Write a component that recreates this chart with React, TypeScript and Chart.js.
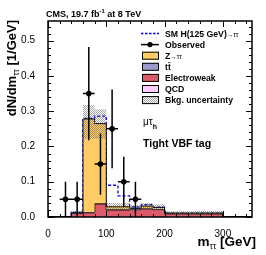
import React, { useEffect, useRef } from 'react';
import { Chart, registerables } from 'chart.js';

Chart.register(...registerables);

// ---- data ----
const binEdges = [0, 20, 40, 60, 80, 100, 120, 140, 160, 180, 200, 250, 300, 350];
const qcdValues = [0, 0, 0, 0, 0, 0, 0, 0, 0, 0, 0, 0, 0];
const electroweakValues = [0, 0, 0.010, 0.012, 0.037, 0.020, 0.020, 0.021, 0.023, 0.021, 0.009, 0.009, 0];
const ttbarValues = [0, 0, 0.001, 0.002, 0.002, 0.002, 0.002, 0.003, 0.002, 0.002, 0.001, 0.001, 0];
const ztautauValues = [0, 0, 0.002, 0.264, 0.226, 0.007, 0.007, 0.001, 0.006, 0.004, 0.001, 0.001, 0];
const signalValues = [0, 0, 0, 0.002, 0.021, 0.061, 0.031, 0.004, 0.004, 0.001, 0, 0, 0];
const bkgUncLow = [0, 0, 0.008, 0.222, 0.222, 0.020, 0.020, 0.018, 0.022, 0.019, 0.007, 0.006, 0];
const bkgUncHigh = [0, 0, 0.018, 0.318, 0.306, 0.040, 0.040, 0.034, 0.040, 0.036, 0.016, 0.018, 0];

const obsMass = [30, 50, 70, 90, 110, 130, 150];
const obsDensity = [0.05, 0.05, 0.35, 0.15, 0.25, 0.10, 0.05];
const obsErrDown = [0.05, 0.05, 0.132, 0.087, 0.112, 0.071, 0.05];
const obsErrUp = [0.05, 0.05, 0.132, 0.087, 0.112, 0.071, 0.05];
const obsBinHalfWidth = [10, 10, 10, 10, 10, 10, 10];

const xTickValues = [0, 100, 200, 300];
const yTickValues = [0, 0.1, 0.2, 0.3, 0.4, 0.5];
const xRange = [0, 350];
const yRange = [0, 0.556];
const xMinorStep = 20;
const yMinorStep = 0.02;

const legendLabels = ['SM H(125 GeV)', 'Observed', 'Z', 'tt', 'Electroweak', 'QCD', 'Bkg. uncertainty'];

const COL_Z = '#FFCC66';
const COL_TT = '#9999CC';
const COL_EWK = '#DE5A6A';
const COL_QCD = '#FFCCFF';
const COL_SIG = '#0000FF';
const FONT = '"Liberation Sans", Arial, Helvetica, sans-serif';

function cumulative(...arrs: number[][]) {
  return arrs[0].map((_, i) => arrs.reduce((s, a) => s + a[i], 0));
}
function steps(values: number[]) {
  const pts = values.map((v, i) => ({ x: binEdges[i], y: v }));
  pts.push({ x: binEdges[binEdges.length - 1], y: values[values.length - 1] });
  return pts;
}

function makeHatch(): CanvasPattern | string {
  const c = document.createElement('canvas');
  c.width = 2;
  c.height = 2;
  const g = c.getContext('2d');
  if (!g) return 'rgba(120,120,120,0.5)';
  g.fillStyle = 'rgba(80,80,80,0.5)';
  g.fillRect(0, 0, 1, 1);
  g.fillRect(1, 1, 1, 1);
  const p = g.createPattern(c, 'repeat');
  return p || 'rgba(120,120,120,0.5)';
}

type Part = { t: string; f: string; dy?: number; c?: string };
function drawParts(ctx: CanvasRenderingContext2D, parts: Part[], x: number, y: number, draw = true) {
  let cx = x;
  for (const p of parts) {
    ctx.font = p.f;
    if (draw) {
      ctx.fillStyle = p.c || '#000';
      ctx.fillText(p.t, cx, y + (p.dy || 0));
    }
    cx += ctx.measureText(p.t).width;
  }
  return cx - x;
}

export default function App() {
  const ref = useRef<HTMLCanvasElement>(null);

  useEffect(() => {
    document.body.style.margin = '0';
    const canvas = ref.current;
    if (!canvas) return;
    const hatch = makeHatch();

    const s1 = cumulative(qcdValues);
    const s2 = cumulative(qcdValues, electroweakValues);
    const s3 = cumulative(qcdValues, electroweakValues, ttbarValues);
    const s4 = cumulative(qcdValues, electroweakValues, ttbarValues, ztautauValues);
    const s5 = cumulative(qcdValues, electroweakValues, ttbarValues, ztautauValues, signalValues);

    const errData: { x: number; y: number | null }[] = [];
    obsMass.forEach((m, i) => {
      errData.push({ x: m - obsBinHalfWidth[i], y: obsDensity[i] });
      errData.push({ x: m + obsBinHalfWidth[i], y: obsDensity[i] });
      errData.push({ x: m, y: null });
      errData.push({ x: m, y: obsDensity[i] - obsErrDown[i] });
      errData.push({ x: m, y: obsDensity[i] + obsErrUp[i] });
      errData.push({ x: m, y: null });
    });

    const histo = (data: any, bg: any, fill: any, order: number, border = '#000', bw = 1) => ({
      type: 'line' as const,
      data,
      stepped: 'before' as const,
      borderColor: border,
      borderWidth: bw,
      backgroundColor: bg,
      fill,
      pointRadius: 0,
      order,
      tension: 0,
    });

    const decor = {
      id: 'decor',
      afterDraw(chart: any) {
        const { ctx, chartArea: a } = chart;
        const x = chart.scales.x;
        const y = chart.scales.y;
        ctx.save();
        // inward ticks on all sides
        ctx.strokeStyle = '#000';
        ctx.lineWidth = 1;
        ctx.beginPath();
        for (let k = 0; k * xMinorStep <= xRange[1] + 1e-9; k++) {
          const v = k * xMinorStep;
          const major = xTickValues.some((t) => Math.abs(t - v) < 1e-9);
          const len = major ? 6 : 3;
          const px = Math.round(x.getPixelForValue(v)) + 0.5;
          ctx.moveTo(px, a.bottom);
          ctx.lineTo(px, a.bottom - len);
          ctx.moveTo(px, a.top);
          ctx.lineTo(px, a.top + len);
        }
        for (let k = 0; k * yMinorStep <= yRange[1] + 1e-9; k++) {
          const v = k * yMinorStep;
          const major = yTickValues.some((t) => Math.abs(t - v) < 1e-9);
          const len = major ? 6 : 3;
          const py = Math.round(y.getPixelForValue(v)) + 0.5;
          ctx.moveTo(a.left, py);
          ctx.lineTo(a.left + len, py);
          ctx.moveTo(a.right, py);
          ctx.lineTo(a.right - len, py);
        }
        ctx.stroke();
        ctx.lineWidth = 1.5;
        ctx.strokeRect(a.left, a.top, a.right - a.left, a.bottom - a.top);

        ctx.textBaseline = 'alphabetic';
        ctx.textAlign = 'left';
        // header
        drawParts(ctx, [
          { t: 'CMS, 19.7 fb', f: `bold 9px ${FONT}` },
          { t: '-1', f: `bold 6px ${FONT}`, dy: -3.5 },
          { t: ' at 8 TeV', f: `bold 9px ${FONT}` },
        ], 46, 16.5);

        // y title (rotated, aligned to top)
        const yParts: Part[] = [
          { t: 'dN/dm', f: `bold 13px ${FONT}` },
          { t: 'ττ', f: `8.5px ${FONT}`, dy: 2.5 },
          { t: ' [1/GeV]', f: `bold 13px ${FONT}` },
        ];
        const yw = drawParts(ctx, yParts, 0, 0, false);
        ctx.save();
        ctx.translate(16, 20);
        ctx.rotate(-Math.PI / 2);
        drawParts(ctx, yParts, -yw, 0);
        ctx.restore();

        // x title (right aligned)
        const xParts: Part[] = [
          { t: 'm', f: `bold 13.5px ${FONT}` },
          { t: 'ττ', f: `8.5px ${FONT}`, dy: 3.5 },
          { t: ' [GeV]', f: `bold 13.5px ${FONT}` },
        ];
        const xw = drawParts(ctx, xParts, 0, 0, false);
        drawParts(ctx, xParts, 256 - xw, 245.5);

        // legend
        const L = `bold 8.7px ${FONT}`;
        const S = `6.5px ${FONT}`;
        const rows = [33.5, 44.6, 55.7, 66.8, 77.9, 89.0, 100.1];
        const symL = 141, symR = 159, tx = 165;
        // SM H
        ctx.save();
        ctx.strokeStyle = COL_SIG;
        ctx.lineWidth = 1.3;
        ctx.setLineDash([2.5, 1.5]);
        ctx.beginPath();
        ctx.moveTo(symL, rows[0]);
        ctx.lineTo(symR, rows[0]);
        ctx.stroke();
        ctx.restore();
        drawParts(ctx, [{ t: legendLabels[0], f: L }, { t: '→ττ', f: S }], tx, rows[0] + 3);
        // Observed
        ctx.strokeStyle = '#000';
        ctx.lineWidth = 1.5;
        ctx.beginPath();
        ctx.moveTo(symL, rows[1]);
        ctx.lineTo(symR, rows[1]);
        ctx.stroke();
        ctx.fillStyle = '#000';
        ctx.beginPath();
        ctx.arc((symL + symR) / 2, rows[1], 2.6, 0, Math.PI * 2);
        ctx.fill();
        drawParts(ctx, [{ t: legendLabels[1], f: L }], tx, rows[1] + 3);
        // boxes
        const box = (r: number, fill: any) => {
          ctx.fillStyle = fill;
          ctx.fillRect(symL + 1, r - 4, symR - symL - 1, 8);
          ctx.strokeStyle = '#000';
          ctx.lineWidth = 1;
          ctx.strokeRect(symL + 1.5, r - 3.5, symR - symL - 2, 7);
        };
        box(rows[2], COL_Z);
        drawParts(ctx, [{ t: legendLabels[2], f: L }, { t: '→ττ', f: S }], tx, rows[2] + 3);
        box(rows[3], COL_TT);
        const tw = drawParts(ctx, [{ t: legendLabels[3], f: L }], tx, rows[3] + 3);
        ctx.lineWidth = 0.8;
        ctx.beginPath();
        ctx.moveTo(tx + tw / 2 + 0.3, rows[3] - 4.2);
        ctx.lineTo(tx + tw - 0.3, rows[3] - 4.2);
        ctx.stroke();
        box(rows[4], COL_EWK);
        drawParts(ctx, [{ t: legendLabels[4], f: L }], tx, rows[4] + 3);
        box(rows[5], COL_QCD);
        drawParts(ctx, [{ t: legendLabels[5], f: L }], tx, rows[5] + 3);
        ctx.fillStyle = '#fff';
        ctx.fillRect(symL + 1, rows[6] - 4, symR - symL - 1, 8);
        box(rows[6], hatch);
        drawParts(ctx, [{ t: legendLabels[6], f: L }], tx, rows[6] + 3);

        // channel / category labels
        drawParts(ctx, [
          { t: 'μτ', f: `10px ${FONT}` },
          { t: 'h', f: `bold 7px ${FONT}`, dy: 4 },
        ], 143, 125);
        drawParts(ctx, [{ t: 'Tight VBF tag', f: `bold 10.5px ${FONT}` }], 143, 147);
        ctx.restore();
      },
    };

    const chart = new Chart(canvas, {
      type: 'line',
      data: {
        datasets: [
          histo(steps(s1), COL_QCD, 'origin', 7) as any,
          histo(steps(s2), COL_EWK, 0, 6),
          histo(steps(s3), COL_TT, 1, 5),
          histo(steps(s4), COL_Z, 2, 4),
          { ...histo(steps(bkgUncLow), 'transparent', false, 3, 'transparent', 0) },
          { ...histo(steps(bkgUncHigh), hatch, 4, 3, 'transparent', 0) },
          { ...histo(steps(s5), 'transparent', false, 9, COL_SIG, 1.3), borderDash: [3, 2] },
          {
            type: 'line',
            data: errData,
            borderColor: '#000',
            borderWidth: 1.5,
            pointRadius: 0,
            fill: false,
            spanGaps: false,
            order: 0,
          },
          {
            type: 'scatter',
            data: obsMass.map((m, i) => ({ x: m, y: obsDensity[i] })),
            backgroundColor: '#000',
            borderColor: '#000',
            pointRadius: 2.8,
            pointBorderWidth: 0,
            order: 0,
          },
        ],
      },
      options: {
        animation: false,
        responsive: false,
        events: [],
        layout: { padding: { top: 21, right: 14, left: 0, bottom: 0 } },
        plugins: { legend: { display: false }, tooltip: { enabled: false } },
        scales: {
          x: {
            type: 'linear',
            min: xRange[0],
            max: xRange[1],
            grid: { display: false },
            border: { display: false },
            afterBuildTicks: (s: any) => { s.ticks = xTickValues.map((v) => ({ value: v })); },
            afterFit: (s: any) => { s.height = 38; },
            ticks: { color: '#000', font: { family: FONT, size: 10 }, padding: 3, maxRotation: 0, callback: (v: any) => String(v) },
          },
          y: {
            type: 'linear',
            min: yRange[0],
            max: yRange[1],
            grid: { display: false },
            border: { display: false },
            afterBuildTicks: (s: any) => { s.ticks = yTickValues.map((v) => ({ value: v })); },
            afterFit: (s: any) => { s.width = 48; },
            ticks: { color: '#000', font: { family: FONT, size: 10 }, padding: 5, callback: (v: any) => Number(v).toFixed(1) },
          },
        },
      },
      plugins: [decor],
    });
    return () => chart.destroy();
  }, []);

  return (
    <div style={{ width: 266, height: 255, background: '#fff' }}>
      <canvas ref={ref} width={266} height={255} style={{ display: 'block' }} />
    </div>
  );
}
